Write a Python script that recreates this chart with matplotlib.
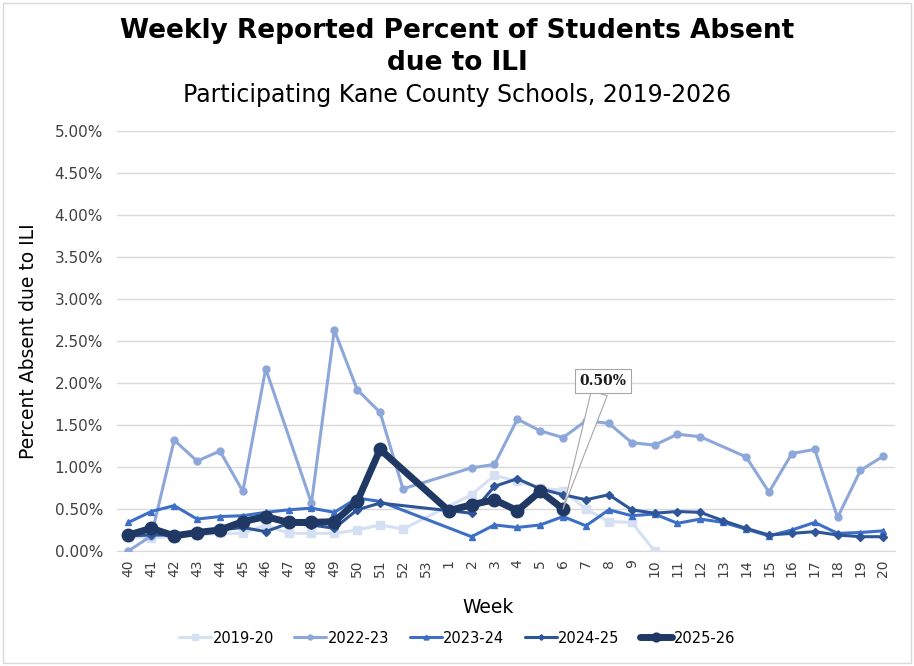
import numpy as np
import matplotlib
matplotlib.use("Agg")
import matplotlib.pyplot as plt
from matplotlib.lines import Line2D
from matplotlib.patches import Rectangle
from matplotlib.ticker import PercentFormatter

nan = np.nan

# =========================
# data (percent absent)
# =========================
weeks = ["40", "41", "42", "43", "44", "45", "46", "47", "48", "49", "50", "51", "52", "53",
         "1", "2", "3", "4", "5", "6", "7", "8", "9", "10", "11", "12", "13", "14", "15",
         "16", "17", "18", "19", "20"]

s2019_20 = [0.17, 0.16, 0.17, 0.19, 0.21, 0.21, 0.31, 0.21, 0.21, 0.21, 0.25, 0.31, 0.26, nan,
            nan, 0.67, 0.90, 0.83, 0.75, 0.72, 0.50, 0.35, 0.34, 0.00, nan, nan, nan, nan, nan,
            nan, nan, nan, nan, nan]
s2022_23 = [0.00, 0.18, 1.32, 1.07, 1.19, 0.71, 2.17, nan, 0.57, 2.63, 1.92, 1.65, 0.74, nan,
            nan, 0.99, 1.03, 1.57, 1.43, 1.35, 1.55, 1.52, 1.29, 1.26, 1.39, 1.36, nan, 1.12, 0.70,
            1.16, 1.21, 0.40, 0.96, 1.13]
s2023_24 = [0.34, 0.47, 0.54, 0.38, 0.41, 0.42, 0.46, 0.49, 0.51, 0.46, 0.63, 0.59, nan, nan,
            nan, 0.17, 0.31, 0.28, 0.31, 0.41, 0.30, 0.49, 0.42, 0.44, 0.33, 0.38, 0.34, 0.26, 0.18,
            0.25, 0.34, 0.21, 0.22, 0.24]
s2024_25 = [0.18, 0.19, 0.19, 0.21, 0.25, 0.28, 0.23, 0.33, 0.31, 0.27, 0.49, 0.57, nan, nan,
            nan, 0.45, 0.77, 0.86, 0.74, 0.67, 0.61, 0.67, 0.49, 0.45, 0.47, 0.46, 0.36, 0.27, 0.19,
            0.21, 0.23, 0.19, 0.17, 0.17]
s2025_26 = [0.19, 0.27, 0.18, 0.22, 0.25, 0.35, 0.41, 0.34, 0.34, 0.35, 0.59, 1.21, nan, nan,
            0.48, 0.55, 0.61, 0.48, 0.71, 0.50, nan, nan, nan, nan, nan, nan, nan, nan, nan,
            nan, nan, nan, nan, nan]

series = [
    ("2019-20", s2019_20, "#D6E0F3", "s", 2.2, 6),
    ("2022-23", s2022_23, "#8EA7DA", "o", 2.2, 5),
    ("2023-24", s2023_24, "#3D6FC6", "^", 2.2, 5),
    ("2024-25", s2024_25, "#2E5597", "D", 2.2, 4),
    ("2025-26", s2025_26, "#1F3864", "o", 5.0, 9),
]

plt.rcParams["font.family"] = ["DejaVu Sans"]

fig = plt.figure(figsize=(9.14, 6.66), dpi=100)
ax = fig.add_axes([0.128, 0.1727, 0.851, 0.6306])

x = np.arange(len(weeks))
handles = []
for name, vals, col, mk, lw, ms in series:
    v = np.array(vals, dtype=float)
    ok = ~np.isnan(v)
    # gaps are bridged, like Excel "connect data points with line"
    ax.plot(x[ok], v[ok], color=col, lw=lw, marker=mk, ms=ms,
            mfc=col, mec=col, solid_joinstyle="round", zorder=3)
    handles.append(Line2D([], [], color=col, lw=lw, marker=mk, ms=ms * 0.7,
                          mfc=col, mec=col, solid_capstyle="round"))

ax.set_xlim(-0.5, len(weeks) - 0.5)
ax.set_ylim(0, 5.0)
ax.set_yticks(np.arange(0, 5.01, 0.5))
ax.yaxis.set_major_formatter(PercentFormatter(decimals=2))
ax.set_xticks(x)
ax.set_xticklabels(weeks, rotation=90)
ax.tick_params(axis="both", length=0, colors="#404040")
ax.tick_params(axis="y", labelsize=11, pad=10)
ax.tick_params(axis="x", labelsize=10, pad=6)
ax.grid(axis="y", color="#D9D9D9", lw=1)
ax.set_axisbelow(True)
for sp in ["top", "right", "left"]:
    ax.spines[sp].set_visible(False)
ax.spines["bottom"].set_color("#D9D9D9")

ax.set_xlabel("Week", fontsize=13.5)
ax.xaxis.set_label_coords(0.477, -0.112)
ax.set_ylabel("Percent Absent due to ILI", fontsize=13.5, labelpad=12)

# callout for the latest point
last = int(np.where(~np.isnan(np.array(s2025_26)))[0][-1])
ax.annotate(f"{s2025_26[last]:.2f}%", xy=(x[last], s2025_26[last]),
            xytext=(40, 128), textcoords="offset pixels",
            ha="center", va="center", fontsize=10, fontweight="bold",
            family="DejaVu Serif", color="#1a1a1a",
            bbox=dict(boxstyle="square,pad=0.35", fc="white", ec="#A6A6A6", lw=0.8),
            arrowprops=dict(arrowstyle="wedge,tail_width=0.6,shrink_factor=0.5",
                            fc="white", ec="#A6A6A6", lw=0.8, mutation_scale=20,
                            shrinkA=0, shrinkB=0),
            zorder=5)

fig.text(0.5, 0.953, "Weekly Reported Percent of Students Absent", ha="center", va="center",
         fontsize=19, fontweight="bold")
fig.text(0.5, 0.906, "due to ILI", ha="center", va="center", fontsize=19, fontweight="bold")
fig.text(0.5, 0.857, "Participating Kane County Schools, 2019-2026", ha="center", va="center",
         fontsize=17)

fig.legend(handles, [s[0] for s in series], loc="center", bbox_to_anchor=(0.5, 0.042),
           ncol=5, frameon=False, fontsize=10.5, handlelength=2.2, handletextpad=0.1,
           columnspacing=1.4)

fig.patches.append(Rectangle((0.003, 0.004), 0.994, 0.992, transform=fig.transFigure,
                             fill=False, ec="#D9D9D9", lw=1))

fig.savefig("out.png", dpi=100)
